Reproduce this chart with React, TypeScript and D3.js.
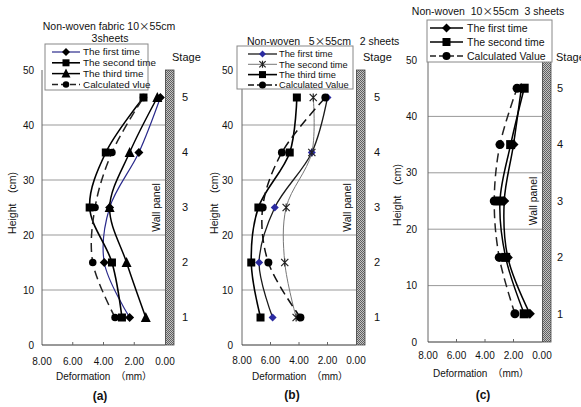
import React from "react";
import * as d3 from "d3";

// shared values
const heights = [5, 15, 25, 35, 45];
const stageLabels = ["1", "2", "3", "4", "5"];
const xTickValues = [8, 6, 4, 2, 0];
const xTickLabels = ["8.00", "6.00", "4.00", "2.00", "0.00"];
const yTickValues = [0, 10, 20, 30, 40, 50];
const gridValues = [10, 20, 30, 40];

// (a) Non-woven fabric 10x55cm 3sheets
const aFirst = [2.3, 3.95, 3.6, 1.7, 0.3];
const aSecond = [2.8, 3.45, 4.9, 3.85, 1.4];
const aThird = [1.25, 2.5, 3.6, 2.3, 0.5];
const aCalc = [3.25, 4.7, 4.55, 3.45, 1.4];
const aLegend = ["The first time", "The second time", "The third time", "Calculated vlue"];

// (b) Non-woven 5x55cm 2 sheets
const bFirst = [5.85, 6.8, 5.7, 3.1, 2.0];
const bSecond = [4.2, 5.0, 4.9, 3.1, 3.0];
const bThird = [6.7, 7.35, 6.85, 4.65, 4.15];
const bCalc = [3.9, 6.15, 6.55, 5.2, 2.15];
const bLegend = ["The first time", "The second time", "The third time", "Calculated Value"];

// (c) Non-woven 10x55cm 3 sheets
const cFirst = [0.85, 2.4, 2.65, 2.0, 1.45];
const cSecond = [1.25, 2.55, 2.95, 2.2, 1.25];
const cCalc = [1.9, 3.0, 3.35, 2.95, 1.75];
const cLegend = ["The first time", "The second time", "Calculated Value"];

const FONT = "'Liberation Sans', Arial, 'Noto Sans CJK JP', sans-serif";
const CJK = "'Noto Sans CJK JP', sans-serif";

type Series = {
  values: number[];
  label: string;
  marker: "diamond" | "square" | "triangle" | "circle" | "star";
  stroke: string;
  width: number;
  dash?: string;
  fill?: string;
  size?: number;
};

type PanelCfg = {
  id: string;
  left: number;
  right: number;
  top: number;
  bottom: number;
  titles: { parts: string[]; x: number; y: number; anchor: string }[];
  legend: { x: number; y: number; w: number; h: number; row0: number; step: number; l0: number; l1: number; tx: number; fs: number };
  stageX: number;
  stageNumX: number;
  yTickX: number;
  yLabelX: number;
  yLabelY: number;
  tickY: number;
  xLabelX: number;
  xLabelY: number;
  capX: number;
  capY: number;
  caption: string;
  series: Series[];
};

const Marker = ({ type, x, y, fill, size = 8 }: { type: string; x: number; y: number; fill: string; size?: number }) => {
  const r = size / 2;
  if (type === "circle") return <circle cx={x} cy={y} r={r} fill={fill} />;
  if (type === "square") return <rect x={x - r} y={y - r} width={size} height={size} fill={fill} />;
  if (type === "diamond")
    return <path d={`M${x},${y - r - 0.5}L${x + r + 0.5},${y}L${x},${y + r + 0.5}L${x - r - 0.5},${y}Z`} fill={fill} />;
  if (type === "triangle")
    return <path d={`M${x},${y - r - 1}L${x + r + 0.5},${y + r}L${x - r - 0.5},${y + r}Z`} fill={fill} />;
  // asterisk-like cross
  const t = r * 0.9;
  return (
    <path
      d={`M${x - t},${y - t}L${x + t},${y + t}M${x - t},${y + t}L${x + t},${y - t}M${x},${y - r}L${x},${y + r}`}
      stroke={fill}
      strokeWidth={1.2}
      fill="none"
    />
  );
};

const Panel = ({ cfg }: { cfg: PanelCfg }) => {
  const x = d3.scaleLinear().domain([8, 0]).range([cfg.left, cfg.right]);
  const y = d3.scaleLinear().domain([0, 50]).range([cfg.bottom, cfg.top]);
  const line = d3
    .line<number>()
    .x((d) => x(d))
    .y((_, i) => y(heights[i]))
    .curve(d3.curveCatmullRom.alpha(0.5));
  const wallW = 8.5;
  const lg = cfg.legend;

  return (
    <g fontFamily={FONT}>
      {/* grid */}
      {gridValues.map((g) => (
        <line key={g} x1={cfg.left} x2={cfg.right} y1={y(g)} y2={y(g)} stroke="#999" strokeWidth={1} />
      ))}
      {/* axes */}
      <line x1={cfg.left} x2={cfg.left} y1={y(50)} y2={y(0)} stroke="#666" strokeWidth={1} />
      <line x1={cfg.left} x2={cfg.right} y1={y(0)} y2={y(0)} stroke="#333" strokeWidth={1} />
      {xTickValues.slice(1, 4).map((v) => (
        <line key={v} x1={x(v)} x2={x(v)} y1={y(0)} y2={y(0) - 3} stroke="#666" />
      ))}
      {yTickValues.map((v) => (
        <text key={v} x={cfg.yTickX} y={y(v)} dy="0.35em" textAnchor="end" fontSize={10} fill="#111">
          {v}
        </text>
      ))}
      {xTickValues.map((v, i) => (
        <text key={v} x={x(v)} y={cfg.tickY} textAnchor="middle" fontSize={10} fill="#111">
          {xTickLabels[i]}
        </text>
      ))}
      {/* wall panel */}
      <rect x={cfg.right + 0.5} y={y(50)} width={wallW} height={y(0) - y(50)} fill="#8c8c8c" />
      <rect
        x={cfg.right + 0.5}
        y={y(50)}
        width={wallW}
        height={y(0) - y(50)}
        fill={`url(#checker)`}
        stroke="#444"
        strokeWidth={0.8}
      />
      <text
        transform={`translate(${cfg.right - 5},${y(25)}) rotate(-90)`}
        textAnchor="middle"
        fontSize={10.5}
        fill="#111"
      >
        Wall panel
      </text>
      {/* series */}
      {cfg.series.map((s, si) => (
        <path
          key={si}
          d={line(s.values) || ""}
          fill="none"
          stroke={s.stroke}
          strokeWidth={s.width}
          strokeDasharray={s.dash}
        />
      ))}
      {cfg.series.map((s, si) => (
        <g key={"m" + si}>
          {s.values.map((v, i) => (
            <Marker key={i} type={s.marker} x={x(v)} y={y(heights[i])} fill={s.fill || "#000"} size={s.size} />
          ))}
        </g>
      ))}
      {/* legend */}
      <rect x={lg.x} y={lg.y} width={lg.w} height={lg.h} fill="#fff" stroke="#888" strokeWidth={1} />
      {cfg.series.map((s, i) => {
        const ly = lg.row0 + i * lg.step;
        return (
          <g key={"l" + i}>
            <line
              x1={lg.l0}
              x2={lg.l1}
              y1={ly}
              y2={ly}
              stroke={s.stroke}
              strokeWidth={s.width}
              strokeDasharray={s.dash ? "6,3" : undefined}
            />
            <Marker type={s.marker} x={(lg.l0 + lg.l1) / 2} y={ly} fill={s.fill || "#000"} size={(s.size || 8) - 1} />
            <text x={lg.tx} y={ly} dy="0.35em" fontSize={lg.fs} fill="#111">
              {s.label}
            </text>
          </g>
        );
      })}
      {/* titles */}
      {cfg.titles.map((t, i) => (
        <text key={i} x={t.x} y={t.y} textAnchor={t.anchor as any} fontSize={10.5} fill="#111" xmlSpace="preserve">
          {t.parts.map((p, j) =>
            p === "×" ? (
              <tspan key={j} fontFamily={CJK}>
                {p}
              </tspan>
            ) : (
              <tspan key={j}>{p}</tspan>
            )
          )}
        </text>
      ))}
      <text x={cfg.stageX} y={61} fontSize={11} fill="#111">
        Stage
      </text>
      {stageLabels.map((s, i) => (
        <text key={s} x={cfg.stageNumX} y={y(heights[i])} dy="0.35em" textAnchor="middle" fontSize={11} fill="#111">
          {s}
        </text>
      ))}
      <text
        transform={`translate(${cfg.yLabelX},${cfg.yLabelY}) rotate(-90)`}
        textAnchor="middle"
        fontSize={10.5}
        fill="#111"
      >
        Height　(cm)
      </text>
      <text x={cfg.xLabelX} y={cfg.xLabelY} textAnchor="middle" fontSize={10} fill="#111">
        Deformation　（mm）
      </text>
      <text x={cfg.capX} y={cfg.capY} textAnchor="middle" fontSize={12} fontWeight="bold" fill="#111">
        {cfg.caption}
      </text>
    </g>
  );
};

const panels: PanelCfg[] = [
  {
    id: "a",
    left: 42,
    right: 165,
    top: 70,
    bottom: 345,
    titles: [
      { parts: ["Non-woven fabric 10", "×", "55cm"], x: 109, y: 30, anchor: "middle" },
      { parts: ["3sheets"], x: 110, y: 42, anchor: "middle" },
    ],
    legend: { x: 45, y: 44, w: 103, h: 46, row0: 52, step: 10.8, l0: 52, l1: 80, tx: 83, fs: 9.9 },
    stageX: 172,
    stageNumX: 185,
    yTickX: 34,
    yLabelX: 16,
    yLabelY: 203,
    tickY: 365,
    xLabelX: 104,
    xLabelY: 380,
    capX: 100,
    capY: 400,
    caption: "(a)",
    series: [
      { values: aFirst, label: aLegend[0], marker: "diamond", stroke: "#2a2a8c", width: 1.2 },
      { values: aSecond, label: aLegend[1], marker: "square", stroke: "#000", width: 1.6 },
      { values: aThird, label: aLegend[2], marker: "triangle", stroke: "#000", width: 1.5, size: 9 },
      { values: aCalc, label: aLegend[3], marker: "circle", stroke: "#222", width: 1.5, dash: "9,5", size: 7.5 },
    ],
  },
  {
    id: "b",
    left: 242,
    right: 356,
    top: 70,
    bottom: 345,
    titles: [{ parts: ["Non-woven   5", "×", "55cm   2 sheets"], x: 247, y: 45, anchor: "start" }],
    legend: { x: 237, y: 46, w: 116, h: 43, row0: 54, step: 10.3, l0: 248, l1: 277, tx: 279, fs: 9.3 },
    stageX: 363,
    stageNumX: 377,
    yTickX: 233,
    yLabelX: 218,
    yLabelY: 203,
    tickY: 364,
    xLabelX: 300,
    xLabelY: 380,
    capX: 292,
    capY: 399,
    caption: "(b)",
    series: [
      { values: bFirst, label: bLegend[0], marker: "diamond", stroke: "#1a1a1a", width: 1.3, fill: "#2b2ba0", size: 7 },
      { values: bSecond, label: bLegend[1], marker: "star", stroke: "#777", width: 1, fill: "#222" },
      { values: bThird, label: bLegend[2], marker: "square", stroke: "#000", width: 1.6 },
      { values: bCalc, label: bLegend[3], marker: "circle", stroke: "#111", width: 1.5, dash: "9,5" },
    ],
  },
  {
    id: "c",
    left: 428,
    right: 542,
    top: 60,
    bottom: 342,
    titles: [{ parts: ["Non-woven  10", "×", "55cm  3 sheets"], x: 488, y: 15, anchor: "middle" }],
    legend: { x: 427, y: 20, w: 125, h: 42, row0: 28, step: 14, l0: 430, l1: 463, tx: 467, fs: 10.5 },
    stageX: 556,
    stageNumX: 560,
    yTickX: 417,
    yLabelX: 401,
    yLabelY: 195,
    tickY: 359,
    xLabelX: 481,
    xLabelY: 377,
    capX: 483,
    capY: 399,
    caption: "(c)",
    series: [
      { values: cFirst, label: cLegend[0], marker: "diamond", stroke: "#000", width: 1.5, size: 9 },
      { values: cSecond, label: cLegend[1], marker: "square", stroke: "#000", width: 1.5, size: 9 },
      { values: cCalc, label: cLegend[2], marker: "circle", stroke: "#222", width: 1.5, dash: "9,5", size: 9 },
    ],
  },
];

export default function App() {
  return (
    <svg
      width={581}
      height={407}
      viewBox="0 0 581 407"
      style={{ position: "absolute", left: 0, top: 0, background: "#fff" }}
    >
      <defs>
        <pattern id="checker" width={2} height={2} patternUnits="userSpaceOnUse">
          <rect width={2} height={2} fill="#c4c4c4" />
          <rect width={1} height={1} fill="#606060" />
          <rect x={1} y={1} width={1} height={1} fill="#606060" />
        </pattern>
      </defs>
      <rect width={581} height={407} fill="#fff" />
      {panels.map((p) => (
        <Panel key={p.id} cfg={p} />
      ))}
    </svg>
  );
}
